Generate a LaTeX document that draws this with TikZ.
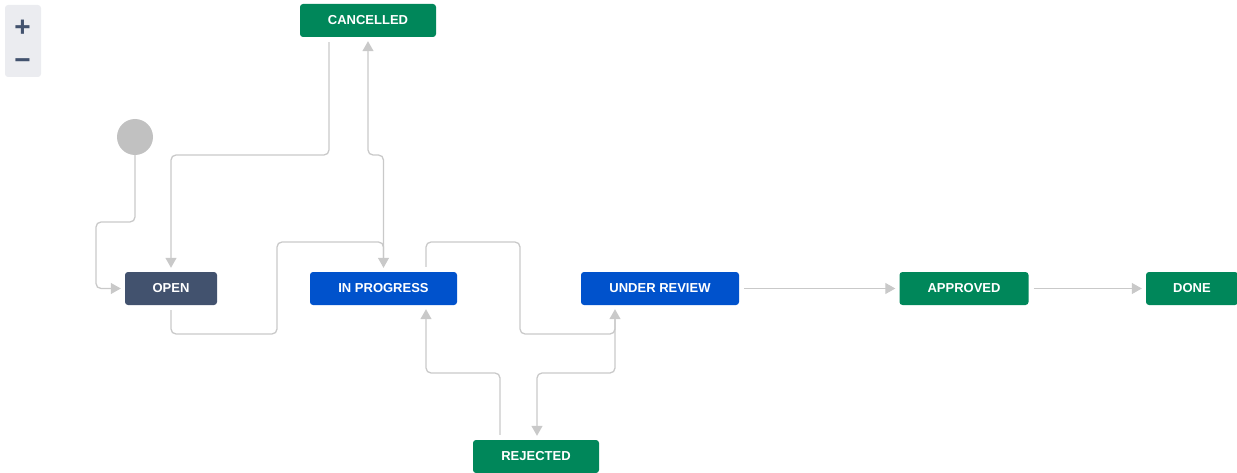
\documentclass[tikz,border=0pt]{standalone}
\usepackage{fontspec}
\setmainfont{Liberation Sans}
\usetikzlibrary{arrows.meta}
\definecolor{jiragreen}{HTML}{00875A}
\definecolor{jirablue}{HTML}{0052CC}
\definecolor{jiranavy}{HTML}{42526E}
\definecolor{linegray}{HTML}{C9C9C9}
\definecolor{startgray}{HTML}{C1C1C1}
\definecolor{zoombg}{HTML}{EBECF0}

\begin{document}
\begin{tikzpicture}[x=1pt,y=1pt,
    status/.style={rounded corners=3pt,minimum height=33pt,inner sep=0pt,text=white,
        font=\fontsize{13}{15}\selectfont\bfseries},
    flow/.style={draw=linegray,line width=1.3pt,rounded corners=5pt,
        -{Triangle[length=10pt,width=11pt]},shorten >=4pt,shorten <=5pt},
    zoomsign/.style={text=jiranavy,inner sep=0pt,font=\fontsize{28}{30}\selectfont\bfseries}]
    \useasboundingbox (0,0) rectangle (1237,-473);

    \fill[zoombg,rounded corners=3pt] (5,-5) rectangle (41,-77);
    \node[zoomsign] (zoomin) at (22.5,-28) {+};
    \node[zoomsign] (zoomout) at (22.5,-64) {−};

    \node[status,fill=jiragreen,minimum width=136pt] (cancelled) at (368,-20.5) {CANCELLED};
    \node[circle,fill=startgray,minimum size=36pt,inner sep=0pt] (start) at (135,-137) {};
    \node[status,fill=jiranavy,minimum width=92pt] (open) at (171,-288.5) {OPEN};
    \node[status,fill=jirablue,minimum width=147pt] (inprogress) at (383.5,-288.5) {IN PROGRESS};
    \node[status,fill=jirablue,minimum width=158pt] (underreview) at (660,-288.5) {UNDER REVIEW};
    \node[status,fill=jiragreen,minimum width=129pt] (approved) at (964,-288.5) {APPROVED};
    \node[status,fill=jiragreen,minimum width=92pt] (done) at (1192,-288.5) {DONE};
    \node[status,fill=jiragreen,minimum width=126pt] (rejected) at (536,-456.5) {REJECTED};

    \draw[flow,shorten <=0pt] (start) |- (96,-222) |- (open);
    \draw[flow] ([xshift=-39pt]cancelled.south) |- (171,-155) -- (open);
    \draw[flow,shorten <=11pt] (inprogress) |- (368,-155) -- (cancelled);
    \draw[flow] (open) |- (277,-334) -- (277,-242) -| (inprogress);
    \draw[flow] ([xshift=42.5pt]inprogress.north) |- (520,-242) |- (615,-334)
        -- ([xshift=-45pt]underreview.south);
    \draw[flow] ([xshift=-36pt]rejected.north) |- (426,-373) -- ([xshift=42.5pt]inprogress.south);
    \draw[flow,shorten <=11pt] ([xshift=-45pt]underreview.south) |- (537,-373) -- ([xshift=1pt]rejected.north);
    \draw[flow] (underreview) -- (approved);
    \draw[flow] (approved) -- (done);
\end{tikzpicture}
\end{document}
